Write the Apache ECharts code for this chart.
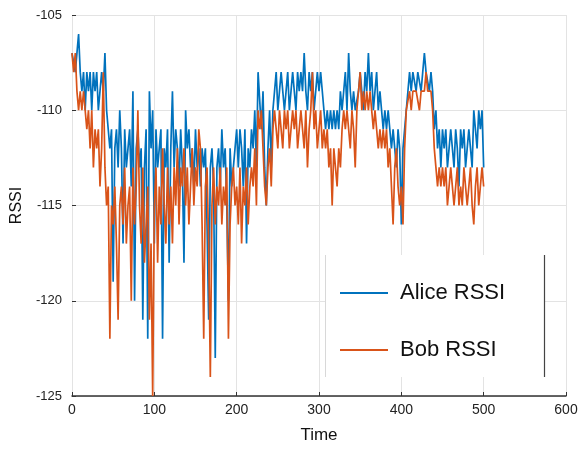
<!DOCTYPE html>
<html>
<head>
<meta charset="utf-8">
<script src="https://cdn.jsdelivr.net/npm/echarts@6/dist/echarts.min.js"></script>
<style>
  html, body { margin: 0; padding: 0; background: #fff; }
  #chart { width: 583px; height: 450px; }
</style>
</head>
<body>
<div id="chart"></div>
<script>
// samples every 2 time units, t = 0 .. 500
const timeStep = 2
const alice = [
  -107,-107,-108,-107,-106,-108,-109,-108,-110,-108,
  -109,-108,-110,-108,-109,-108,-110,-109,-108,-109,
  -107,-110,-111,-112,-111,-119,-112,-111,-113,-110,
  -112,-117,-111,-113,-112,-111,-114,-109,-120,-112,
  -111,-113,-112,-121,-113,-111,-122,-109,-112,-110,
  -117,-111,-113,-112,-111,-122,-112,-113,-111,-118,
  -112,-109,-113,-111,-112,-114,-111,-113,-118,-110,
  -112,-111,-113,-112,-114,-111,-113,-112,-114,-112,
  -113,-112,-116,-121,-113,-112,-114,-123,-113,-112,
  -114,-111,-113,-112,-115,-120,-112,-114,-113,-112,
  -111,-113,-111,-112,-114,-111,-117,-112,-113,-111,
  -112,-110,-113,-108,-108,-111,-109,-113,-115,-112,
  -110,-113,-110,-109,-108,-110,-109,-108,-109,-110,
  -109,-108,-110,-109,-108,-109,-110,-108,-109,-108,
  -109,-107,-109,-110,-108,-109,-108,-110,-109,-108,
  -109,-108,-109,-110,-111,-110,-111,-110,-111,-110,
  -111,-110,-111,-109,-110,-109,-108,-110,-107,-109,
  -110,-109,-110,-110,-109,-108,-109,-110,-108,-109,
  -107,-109,-108,-110,-109,-108,-110,-109,-110,-111,
  -110,-111,-110,-111,-112,-111,-112,-113,-111,-112,
  -116,-112,-111,-110,-109,-108,-109,-108,-108,-109,
  -108,-108,-109,-108,-107,-108,-108,-109,-108,-109,
  -111,-110,-112,-111,-113,-111,-112,-111,-113,-112,
  -111,-112,-113,-111,-112,-114,-111,-112,-111,-113,
  -112,-111,-112,-113,-110,-111,-112,-110,-111,-110,
  -113
]
const bob = [
  -107,-108,-107,-109,-110,-109,-110,-109,-110,-111,
  -110,-112,-110,-113,-111,-112,-111,-114,-112,-108,
  -113,-115,-114,-122,-115,-116,-114,-117,-121,-115,
  -114,-116,-113,-117,-115,-114,-120,-113,-116,-114,
  -110,-115,-117,-113,-118,-116,-114,-121,-117,-125,
  -115,-113,-118,-114,-116,-112,-115,-117,-113,-116,
  -114,-117,-113,-115,-112,-116,-113,-114,-112,-115,
  -113,-116,-114,-112,-115,-113,-114,-111,-112,-116,
  -122,-114,-113,-117,-124,-115,-113,-116,-114,-115,
  -113,-116,-114,-115,-113,-122,-116,-114,-113,-115,
  -114,-116,-113,-117,-114,-115,-113,-116,-114,-113,
  -114,-112,-115,-110,-111,-110,-112,-114,-115,-113,
  -112,-114,-111,-110,-111,-112,-110,-111,-112,-110,
  -111,-110,-112,-111,-110,-111,-110,-112,-111,-110,
  -111,-112,-110,-113,-111,-110,-108,-111,-110,-112,
  -111,-110,-112,-111,-112,-111,-113,-112,-115,-112,
  -113,-114,-112,-113,-111,-110,-111,-110,-111,-112,
  -110,-111,-113,-110,-109,-108,-110,-109,-110,-109,
  -110,-109,-110,-111,-110,-111,-112,-111,-112,-111,
  -112,-111,-113,-112,-114,-116,-113,-112,-114,-115,
  -114,-116,-112,-110,-110,-109,-110,-109,-109,-109,
  -109,-110,-109,-109,-109,-108,-109,-109,-109,-110,
  -112,-113,-114,-113,-114,-113,-114,-113,-115,-114,
  -113,-114,-115,-114,-113,-115,-114,-115,-113,-114,
  -115,-114,-113,-115,-116,-114,-113,-115,-114,-113,
  -114
]
const seriesNames = ['Alice RSSI', 'Bob RSSI']
const colors = ['#0072BD', '#D95319']
const xTicks = [0, 100, 200, 300, 400, 500, 600]
const yTicks = [-125, -120, -115, -110, -105]

const toPairs = (arr) => arr.map((v, i) => [i * timeStep, v])

const chart = echarts.init(document.getElementById('chart'))
const font = 'Liberation Sans, Arial, sans-serif'

const option = {
  animation: false,
  textStyle: { fontFamily: font },
  grid: { left: 72, right: 17, top: 15, bottom: 54 },
  xAxis: {
    type: 'value',
    min: xTicks[0],
    max: xTicks[xTicks.length - 1],
    interval: 100,
    name: 'Time',
    nameLocation: 'middle',
    nameGap: 31,
    nameTextStyle: { fontSize: 17, color: '#111', fontFamily: font },
    axisLine: { show: true, onZero: false, lineStyle: { color: '#333', width: 1.5 } },
    axisTick: { show: true, inside: true, length: 4, lineStyle: { color: '#333' } },
    axisLabel: { fontSize: 14, color: '#222', margin: 7, fontFamily: font },
    splitLine: { show: true, lineStyle: { color: '#e3e3e3', width: 1 } }
  },
  yAxis: {
    type: 'value',
    min: yTicks[0],
    max: yTicks[yTicks.length - 1],
    interval: 5,
    name: 'RSSI',
    nameLocation: 'middle',
    nameGap: 44,
    nameTextStyle: { fontSize: 16, color: '#111', fontFamily: font },
    axisLine: { show: false },
    axisTick: { show: true, inside: true, length: 4, lineStyle: { color: '#333' } },
    axisLabel: { fontSize: 13, color: '#222', margin: 10, fontFamily: font },
    splitLine: { show: true, lineStyle: { color: '#e3e3e3', width: 1 } }
  },
  legend: {
    orient: 'vertical',
    left: 335,
    top: 277,
    icon: 'rect',
    itemWidth: 48,
    itemHeight: 2,
    itemGap: 35,
    textStyle: { fontSize: 22, color: '#111', padding: [0, 0, 0, 7], fontFamily: font },
    data: seriesNames
  },
  // legend box: white fill, light left edge, dark right edge
  graphic: [
    { type: 'rect', z: 3, shape: { x: 325, y: 255, width: 219, height: 122 }, style: { fill: '#fff' } },
    { type: 'line', z: 3, shape: { x1: 325.5, y1: 255, x2: 325.5, y2: 377 }, style: { stroke: '#d8d8d8', lineWidth: 1 } },
    { type: 'line', z: 3, shape: { x1: 544.5, y1: 255, x2: 544.5, y2: 377 }, style: { stroke: '#444', lineWidth: 1.2 } }
  ],
  series: [
    {
      name: seriesNames[0],
      type: 'line',
      data: toPairs(alice),
      showSymbol: false,
      symbol: 'none',
      color: colors[0],
      lineStyle: { width: 1.7, color: colors[0] }
    },
    {
      name: seriesNames[1],
      type: 'line',
      data: toPairs(bob),
      showSymbol: false,
      symbol: 'none',
      color: colors[1],
      lineStyle: { width: 1.7, color: colors[1] }
    }
  ]
}

chart.setOption(option)
</script>
</body>
</html>
